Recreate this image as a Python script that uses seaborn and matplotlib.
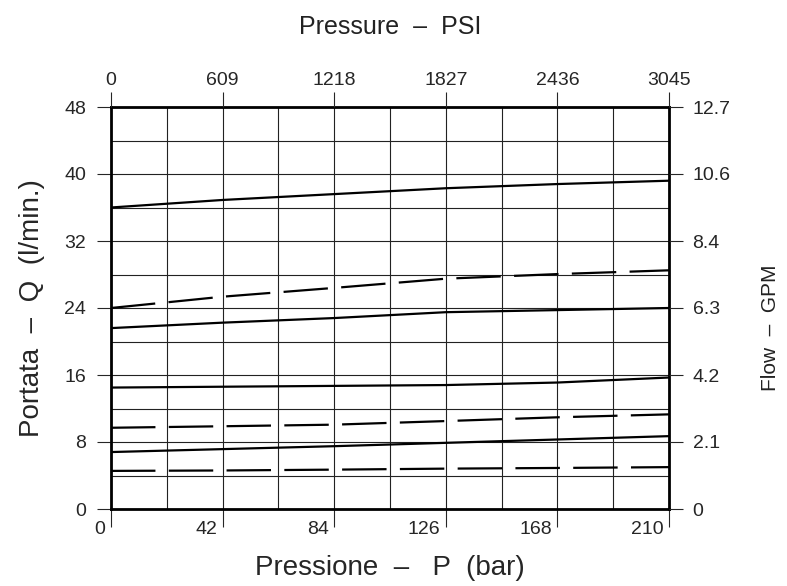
import matplotlib
matplotlib.use("Agg")
import matplotlib.pyplot as plt
import matplotlib.transforms as mtransforms
import numpy as np
import pandas as pd
import seaborn as sns

# pressure (bar) and flow curves (l/min)
pressure_bar = [0, 42, 84, 126, 168, 210]
curve_1 = [36.0, 36.9, 37.6, 38.3, 38.8, 39.2]
curve_2 = [24.0, 25.35, 26.4, 27.5, 28.05, 28.5]
curve_3 = [21.6, 22.25, 22.8, 23.5, 23.75, 24.0]
curve_4 = [14.5, 14.6, 14.7, 14.8, 15.1, 15.7]
curve_5 = [9.7, 9.88, 10.07, 10.5, 10.95, 11.3]
curve_6 = [6.8, 7.15, 7.5, 7.9, 8.3, 8.7]
curve_7 = [4.55, 4.6, 4.7, 4.82, 4.9, 5.0]
curve_kinds = ["solid", "dashed", "solid", "solid", "dashed", "solid", "dashed"]

bar_ticks = [0, 42, 84, 126, 168, 210]
psi_labels = ["0", "609", "1218", "1827", "2436", "3045"]
lpm_ticks = [0, 8, 16, 24, 32, 40, 48]
gpm_labels = ["0", "2.1", "4.2", "6.3", "8.4", "10.6", "12.7"]

curves = [curve_1, curve_2, curve_3, curve_4, curve_5, curve_6, curve_7]
rows = []
for i, (vals, kind) in enumerate(zip(curves, curve_kinds)):
    for p, q in zip(pressure_bar, vals):
        rows.append({"curve": i, "kind": kind, "p": p, "q": q})
df = pd.DataFrame(rows)

sns.set_style("white")
plt.rcParams["font.family"] = ["Liberation Sans Narrow", "Liberation Sans", "DejaVu Sans"]

fig = plt.figure(figsize=(7.87, 5.86), dpi=100)
ax = fig.add_axes([111 / 787, 77 / 586, 558 / 787, 402 / 586])

sns.lineplot(data=df, x="p", y="q", units="curve", style="kind", estimator=None,
             dashes={"solid": "", "dashed": (20, 6)}, color="black", linewidth=1.6,
             legend=False, ax=ax)

ax.set_xlim(0, 210)
ax.set_ylim(0, 48)
ax.set_xticks(bar_ticks)
ax.set_xticks(np.arange(0, 211, 21), minor=True)
ax.set_yticks(lpm_ticks)
ax.set_yticks(np.arange(0, 49, 4), minor=True)
ax.grid(which="both", color="#222222", linewidth=0.8)
for s in ax.spines.values():
    s.set_linewidth(2.0)
    s.set_color("black")

ax.tick_params(axis="both", which="minor", length=0)
ax.tick_params(axis="y", which="major", direction="out", length=10, width=0.8,
               pad=8, labelsize=14, left=True)
ax.tick_params(axis="x", which="major", direction="out", length=13, width=0.8,
               pad=-4, labelsize=14, bottom=True)
ax.set_xticklabels([str(t) for t in bar_ticks])
offset = mtransforms.ScaledTranslation(-4 / 72, 0, fig.dpi_scale_trans)
for lab in ax.get_xticklabels():
    lab.set_horizontalalignment("right")
    lab.set_transform(lab.get_transform() + offset)

ax.set_xlabel("Pressione  –   P  (bar)", fontsize=20, labelpad=12)
ax.set_ylabel("Portata  –  Q  (l/min.)", fontsize=20, labelpad=14)

# top axis in PSI
ax_top = ax.twiny()
ax_top.set_xlim(0, 210)
ax_top.set_xticks(bar_ticks)
ax_top.set_xticklabels(psi_labels)
ax_top.tick_params(axis="x", direction="out", length=11, width=0.8, pad=2,
                   labelsize=14, top=True)
ax_top.set_xlabel("Pressure  –  PSI", fontsize=18, labelpad=27, color="#222222")

# right axis in GPM
ax_right = ax.twinx()
ax_right.set_ylim(0, 48)
ax_right.set_yticks(lpm_ticks)
ax_right.set_yticklabels(gpm_labels)
ax_right.tick_params(axis="y", direction="out", length=10, width=0.8, pad=7,
                     labelsize=14, right=True)
ax_right.set_ylabel("Flow  –  GPM", fontsize=15, color="#222222")
ax_right.yaxis.set_label_coords(1.165, 0.45)
for a in (ax_top, ax_right):
    for s in a.spines.values():
        s.set_visible(False)

fig.savefig("out.png", dpi=100)
